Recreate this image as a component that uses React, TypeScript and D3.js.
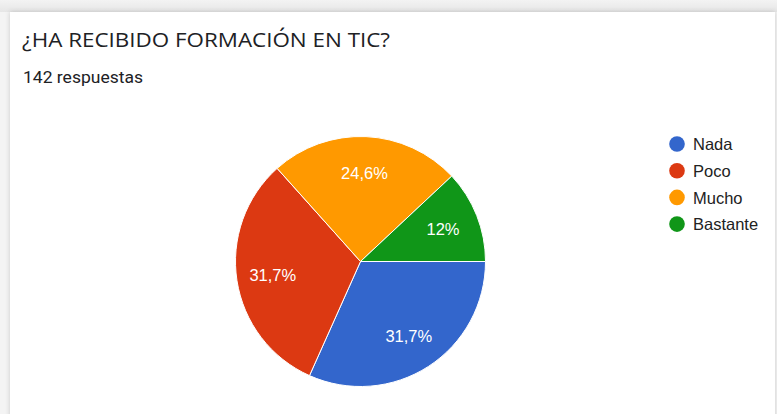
import React from "react";
import * as d3 from "d3";

const categories = ["Nada", "Poco", "Mucho", "Bastante"];
const counts = [45, 45, 35, 17];
const percentLabels = ["31,7%", "31,7%", "24,6%", "12%"];
const colors = ["#3366cc", "#dc3912", "#ff9900", "#109618"];
const title = "¿HA RECIBIDO FORMACIÓN EN TIC?";
const subtitle = "142 respuestas";

export default function App() {
  const W = 777, H = 414;
  const cx = 360.5, cy = 261.5, r = 125;
  const pie = d3
    .pie<number>()
    .sort(null)
    .startAngle(Math.PI / 2)
    .endAngle(Math.PI / 2 + 2 * Math.PI);
  const arcs = pie(counts);
  const arc = d3.arc<d3.PieArcDatum<number>>().innerRadius(0).outerRadius(r);
  const labelArc = d3.arc<d3.PieArcDatum<number>>().innerRadius(r * 0.71).outerRadius(r * 0.71);
  const legendY = d3.scaleLinear().domain([0, 1]).range([144, 170.7]);

  return (
    <svg width={W} height={H} style={{ position: "absolute", left: 0, top: 0 }}>
      <defs>
        <linearGradient id="bgTop" x1="0" y1="0" x2="0" y2="1">
          <stop offset="0" stopColor="#f3f3f3" />
          <stop offset="1" stopColor="#e6e6e6" />
        </linearGradient>
        <filter id="sh" x="-5%" y="-5%" width="110%" height="110%">
          <feDropShadow dx="0" dy="0" stdDeviation="2.5" floodColor="#000" floodOpacity="0.18" />
        </filter>
      </defs>
      <rect x={0} y={0} width={W} height={H} fill="#f4f4f4" />
      <rect x={0} y={0} width={W} height={12} fill="url(#bgTop)" />
      <rect x={10} y={12} width={765} height={H + 10} fill="#fff" filter="url(#sh)" />
      <text x={22} y={47} fontFamily="'Open Sans', sans-serif" fontSize={20} fill="#202124" textLength={368} lengthAdjust="spacingAndGlyphs">
        {title}
      </text>
      <text x={23} y={83} fontFamily="Roboto, sans-serif" fontSize={17} fill="#202124" textLength={120} lengthAdjust="spacingAndGlyphs">
        {subtitle}
      </text>
      <g transform={`translate(${cx},${cy})`}>
        {arcs.map((a, i) => (
          <path key={i} d={arc(a) || ""} fill={colors[i]} stroke="#fff" strokeWidth={1} />
        ))}
        {arcs.map((a, i) => {
          const [x, y] = labelArc.centroid(a);
          return (
            <text key={i} x={x} y={y} dy="0.36em" textAnchor="middle" fontFamily="Arial, 'Liberation Sans', sans-serif" fontSize={16.5} fill="#fff">
              {percentLabels[i]}
            </text>
          );
        })}
      </g>
      <g>
        {categories.map((c, i) => (
          <g key={c}>
            <circle cx={677} cy={legendY(i)} r={7.8} fill={colors[i]} />
            <text x={693} y={legendY(i)} dy="0.38em" fontFamily="Arial, 'Liberation Sans', sans-serif" fontSize={16.5} fill="#222">
              {c}
            </text>
          </g>
        ))}
      </g>
    </svg>
  );
}
